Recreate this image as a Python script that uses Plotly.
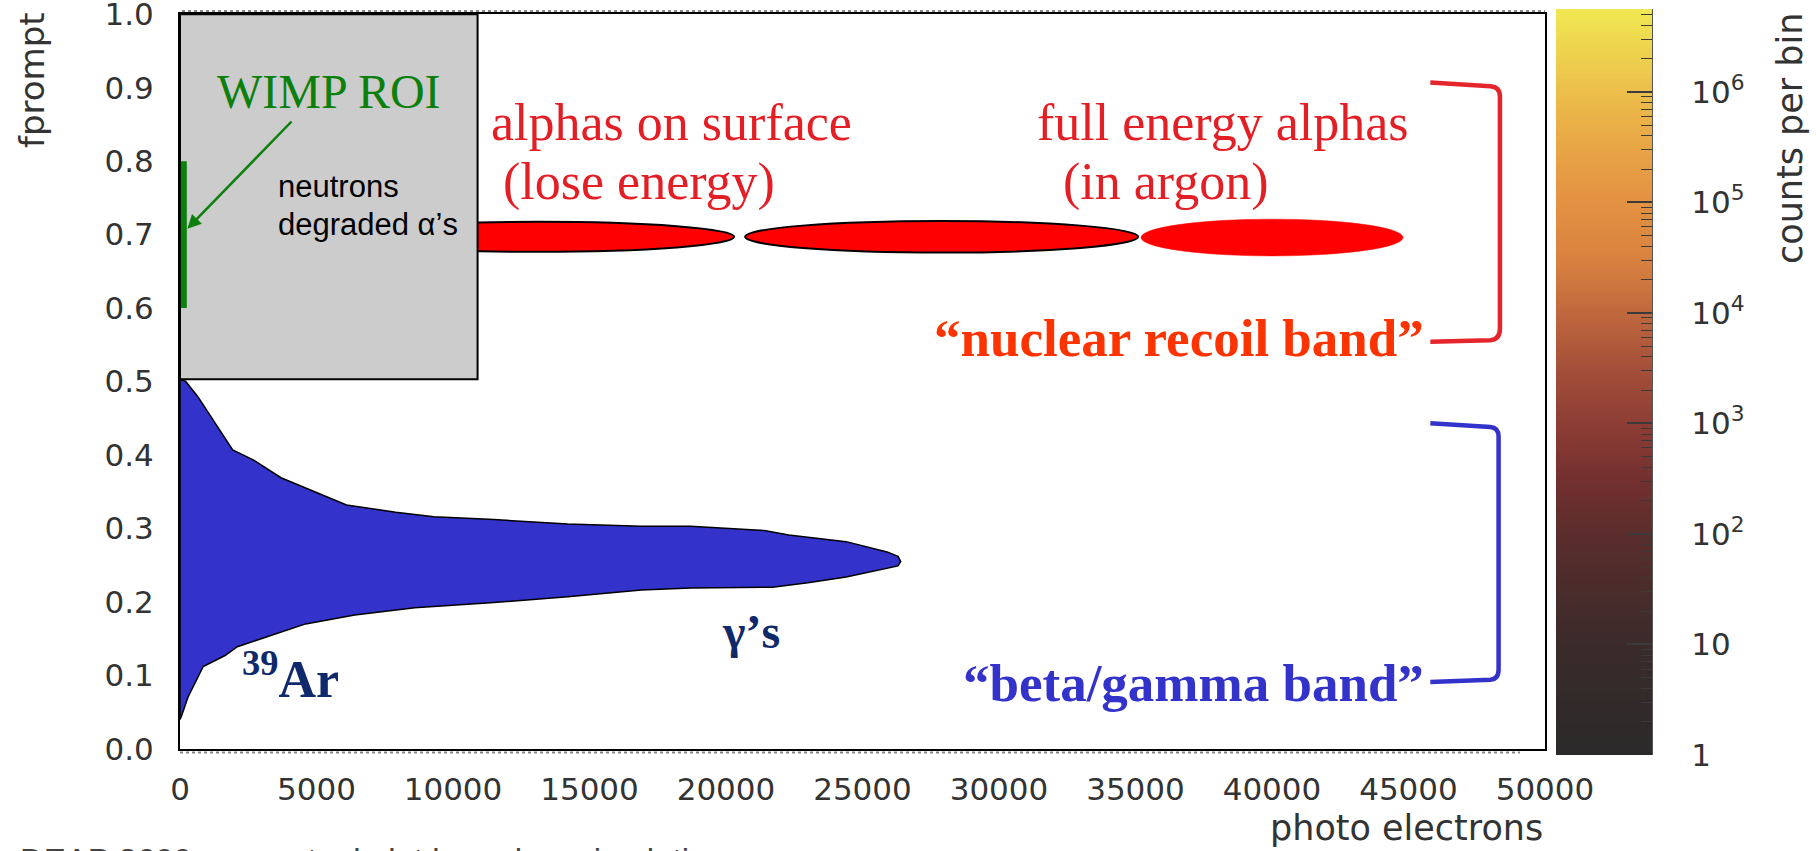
import math
import plotly.graph_objects as go

# ---------------- data ----------------
x_tick_vals = [0, 5000, 10000, 15000, 20000, 25000, 30000, 35000, 40000, 45000, 50000]
y_tick_vals = [0.0, 0.1, 0.2, 0.3, 0.4, 0.5, 0.6, 0.7, 0.8, 0.9, 1.0]

# beta/gamma band outline (photo electrons, fprompt)
band_pe = [0, 210, 660, 1200, 1930, 2700, 3700, 4800, 6100, 7900, 9300, 11500, 14200,
           16900, 18700, 21400, 22300, 24400, 25900, 26300, 26400, 26300, 25900, 24400,
           23000, 21700, 18700, 16900, 14200, 11500, 8600, 6400, 4600, 3400, 2100, 1650,
           850, 660, 300, 50, 0, 0, 0]
band_fp = [0.503, 0.500, 0.479, 0.448, 0.407, 0.393, 0.369, 0.352, 0.332, 0.322, 0.316,
           0.312, 0.306, 0.303, 0.303, 0.297, 0.291, 0.282, 0.268, 0.262, 0.255, 0.249,
           0.246, 0.234, 0.226, 0.220, 0.219, 0.216, 0.207, 0.199, 0.192, 0.182, 0.170,
           0.155, 0.139, 0.127, 0.112, 0.098, 0.071, 0.044, 0.040, 0.200, 0.503]

# alpha populations (ellipses)
alpha_pe_lo = [5900, 20700, 35200]
alpha_pe_hi = [20300, 35100, 44800]
alpha_fp_mid = [0.697, 0.697, 0.696]
alpha_fp_half = [0.0204, 0.0215, 0.0250]
alpha_outlined = [True, True, False]

# gray "neutrons / degraded alphas" region and WIMP ROI
grey_pe = [0, 10900]
grey_fp = [0.503, 1.0]
roi_pe = [30, 250]
roi_fp = [0.600, 0.800]

# colour bar (log10 counts per bin)
cbar_log = [0.0, 6.75]
cbar_tick_vals = [0, 1, 2, 3, 4, 5, 6]
cbar_tick_text = ["1", "10", "10<sup>2</sup>", "10<sup>3</sup>", "10<sup>4</sup>",
                  "10<sup>5</sup>", "10<sup>6</sup>"]
cbar_minor = [d + math.log10(k) for d in range(0, 7) for k in range(2, 10)
              if d + math.log10(k) < 6.75]

# ---------------- geometry helpers (paper coords) ----------------
W, H = 1816, 851
PL, PR, PT, PB = 180, 1652, 9, 755


def px_x(px):
    return (px - PL) / (PR - PL)


def px_y(py):
    return (PB - py) / (PB - PT)


SANS = "DejaVu Sans"
SERIF = "Liberation Serif"
TICK = "#333333"
RED_TXT = "#e41e25"
GREEN = "#0c800c"
NAVY = "#10296b"
BLUE = "#3333cc"

fig = go.Figure()

# beta/gamma band
fig.add_trace(go.Scatter(
    x=band_pe, y=band_fp, mode="lines", fill="toself",
    fillcolor="#3333cc", line=dict(color="black", width=1.5),
    hoverinfo="skip", showlegend=False, xaxis="x", yaxis="y"))

# colour bar as a smooth heat-map strip
fig.add_trace(go.Heatmap(
    x=[0, 1], y=cbar_log, z=[[cbar_log[0], cbar_log[0]], [cbar_log[1], cbar_log[1]]],
    zsmooth="best", zmin=cbar_log[0], zmax=cbar_log[1], showscale=False,
    colorscale=[[0.0, "#2b2a2a"], [0.148, "#3a2b2a"], [0.296, "#5a2d2c"],
                [0.370, "#73302f"], [0.444, "#8d3d34"], [0.519, "#a44f39"],
                [0.593, "#c0683d"], [0.667, "#d9823f"], [0.741, "#e39142"],
                [0.815, "#e8a545"], [0.889, "#ecbe4a"], [1.0, "#f0e852"]],
    hoverinfo="skip", xaxis="x2", yaxis="y2"))

shapes = []
for lo, hi, mid, half, outl in zip(alpha_pe_lo, alpha_pe_hi, alpha_fp_mid,
                                   alpha_fp_half, alpha_outlined):
    shapes.append(dict(type="circle", xref="x", yref="y", x0=lo, x1=hi,
                       y0=mid - half, y1=mid + half, fillcolor="#ff0000",
                       line=dict(color="black" if outl else "#ff0000",
                                 width=2 if outl else 0.5),
                       layer="above"))
shapes.append(dict(type="rect", xref="x", yref="y", x0=grey_pe[0], x1=grey_pe[1],
                   y0=grey_fp[0], y1=grey_fp[1], fillcolor="#cccccc",
                   line=dict(color="black", width=2), layer="above"))
shapes.append(dict(type="rect", xref="x", yref="y", x0=roi_pe[0], x1=roi_pe[1],
                   y0=roi_fp[0], y1=roi_fp[1], fillcolor=GREEN,
                   line=dict(width=0), layer="above"))
# brackets
shapes.append(dict(type="path", xref="x", yref="y",
                   path="M 45800,0.907 L 48000,0.902 Q 48350,0.901 48350,0.888 "
                        "L 48350,0.572 Q 48350,0.557 48000,0.556 L 45800,0.554",
                   line=dict(color="#e4262c", width=4.5), layer="above"))
shapes.append(dict(type="path", xref="x", yref="y",
                   path="M 45800,0.443 L 48000,0.438 Q 48300,0.437 48300,0.425 "
                        "L 48300,0.108 Q 48300,0.095 48000,0.094 L 45800,0.091",
                   line=dict(color=BLUE, width=4.5), layer="above"))
# ROOT-like shadow lines of the frame
shapes.append(dict(type="line", xref="paper", yref="paper", x0=px_x(180), x1=px_x(1520),
                   y0=px_y(752.5), y1=px_y(752.5), line=dict(color="#888888", width=2, dash="dot")))
shapes.append(dict(type="line", xref="paper", yref="paper", x0=px_x(182), x1=px_x(1545),
                   y0=px_y(11), y1=px_y(11), line=dict(color="#888888", width=2, dash="dot")))

ann = []
ann.append(dict(x=270, y=0.708, ax=4140, ay=0.856, xref="x", yref="y", axref="x", ayref="y",
                text="", showarrow=True, arrowhead=2, arrowsize=1.1, arrowwidth=2.5,
                arrowcolor=GREEN))
ann.append(dict(x=5460, y=0.895, xref="x", yref="y", text="WIMP ROI", showarrow=False,
                font=dict(family=SERIF, size=48, color=GREEN), xanchor="center", yanchor="middle"))
ann.append(dict(x=3520, y=0.766, xref="x", yref="y", text="neutrons", showarrow=False,
                font=dict(family="Liberation Sans", size=31, color="black"),
                xanchor="left", yanchor="middle"))
ann.append(dict(x=3520, y=0.714, xref="x", yref="y", text="degraded α’s", showarrow=False,
                font=dict(family="Liberation Sans", size=31, color="black"),
                xanchor="left", yanchor="middle"))
ann.append(dict(x=18000, y=0.853, xref="x", yref="y", text="alphas on surface", showarrow=False,
                font=dict(family=SERIF, size=52, color=RED_TXT), xanchor="center", yanchor="middle"))
ann.append(dict(x=16800, y=0.772, xref="x", yref="y", text="(lose energy)", showarrow=False,
                font=dict(family=SERIF, size=52, color=RED_TXT), xanchor="center", yanchor="middle"))
ann.append(dict(x=38200, y=0.853, xref="x", yref="y", text="full energy alphas", showarrow=False,
                font=dict(family=SERIF, size=52, color=RED_TXT), xanchor="center", yanchor="middle"))
ann.append(dict(x=36100, y=0.772, xref="x", yref="y", text="(in argon)", showarrow=False,
                font=dict(family=SERIF, size=52, color=RED_TXT), xanchor="center", yanchor="middle"))
ann.append(dict(x=45650, y=0.559, xref="x", yref="y", text="<b>“nuclear recoil band”</b>",
                showarrow=False, font=dict(family=SERIF, size=53, color="#ff3300"),
                xanchor="right", yanchor="middle"))
ann.append(dict(x=45650, y=0.090, xref="x", yref="y", text="<b>“beta/gamma band”</b>",
                showarrow=False, font=dict(family=SERIF, size=53, color=BLUE),
                xanchor="right", yanchor="middle"))
ann.append(dict(x=4030, y=0.100, xref="x", yref="y", text="<b><sup>39</sup>Ar</b>",
                showarrow=False, font=dict(family=SERIF, size=52, color=NAVY),
                xanchor="center", yanchor="middle"))
ann.append(dict(x=20900, y=0.160, xref="x", yref="y", text="<b>γ’s</b>",
                showarrow=False, font=dict(family=SERIF, size=48, color=NAVY),
                xanchor="center", yanchor="middle"))
# axis titles
ann.append(dict(x=px_x(32), y=px_y(10), xref="paper", yref="paper", text="fprompt",
                textangle=-90, showarrow=False, font=dict(family=SANS, size=34, color=TICK),
                xanchor="center", yanchor="top"))
ann.append(dict(x=px_x(1545), y=px_y(828), xref="paper", yref="paper", text="photo electrons",
                showarrow=False, font=dict(family=SANS, size=35, color=TICK),
                xanchor="right", yanchor="middle"))
ann.append(dict(x=px_x(1790), y=px_y(10), xref="paper", yref="paper", text="counts per bin",
                textangle=-90, showarrow=False, font=dict(family=SANS, size=35, color=TICK),
                xanchor="center", yanchor="top"))
ann.append(dict(x=px_x(18), y=px_y(840), xref="paper", yref="paper",
                text="DEAP 3600 conceptual plot based on simulation",
                showarrow=False, font=dict(family="Liberation Sans", size=33, color="#444444"),
                xanchor="left", yanchor="top"))

fig.update_layout(
    width=W, height=H, autosize=False,
    margin=dict(l=PL, r=W - PR, t=PT, b=H - PB, pad=0, autoexpand=False),
    paper_bgcolor="white", plot_bgcolor="white",
    showlegend=False,
    xaxis=dict(domain=[0, (1545 - PL) / (PR - PL)], range=[0, 50000.5], automargin=False,
               tickvals=x_tick_vals, tickformat="d", ticks="",
               tickfont=dict(family=SANS, size=31, color=TICK), ticklabelstandoff=12,
               ticklabeloverflow="allow",
               showgrid=False, zeroline=False, showline=True, mirror=True,
               linecolor="black", linewidth=2, anchor="y"),
    yaxis=dict(domain=[px_y(749), px_y(14)], range=[-0.0003, 1.0003], automargin=False,
               tickvals=y_tick_vals, tickformat=".1f", ticks="",
               tickfont=dict(family=SANS, size=31, color=TICK), ticklabelstandoff=18,
               ticklabeloverflow="allow",
               showgrid=False, zeroline=False, showline=True, mirror=True,
               linecolor="black", linewidth=2, anchor="x"),
    xaxis2=dict(domain=[px_x(1556), 1.0], range=[0, 1], visible=False, anchor="y2",
                automargin=False),
    yaxis2=dict(domain=[0, 1], range=cbar_log, anchor="x2", side="right", automargin=False,
                tickvals=cbar_tick_vals, ticktext=cbar_tick_text,
                ticks="inside", ticklen=25, tickwidth=1.5, tickcolor="#3a3a3a",
                minor=dict(tickvals=cbar_minor, ticks="inside", ticklen=11,
                           tickwidth=1, tickcolor="#3a3a3a"),
                tickfont=dict(family=SANS, size=31, color=TICK), ticklabelstandoff=32,
                ticklabeloverflow="allow",
                showgrid=False, zeroline=False, showline=True, linecolor="#555555",
                linewidth=1),
    shapes=shapes,
    annotations=ann,
)

fig.write_html("out.html")
